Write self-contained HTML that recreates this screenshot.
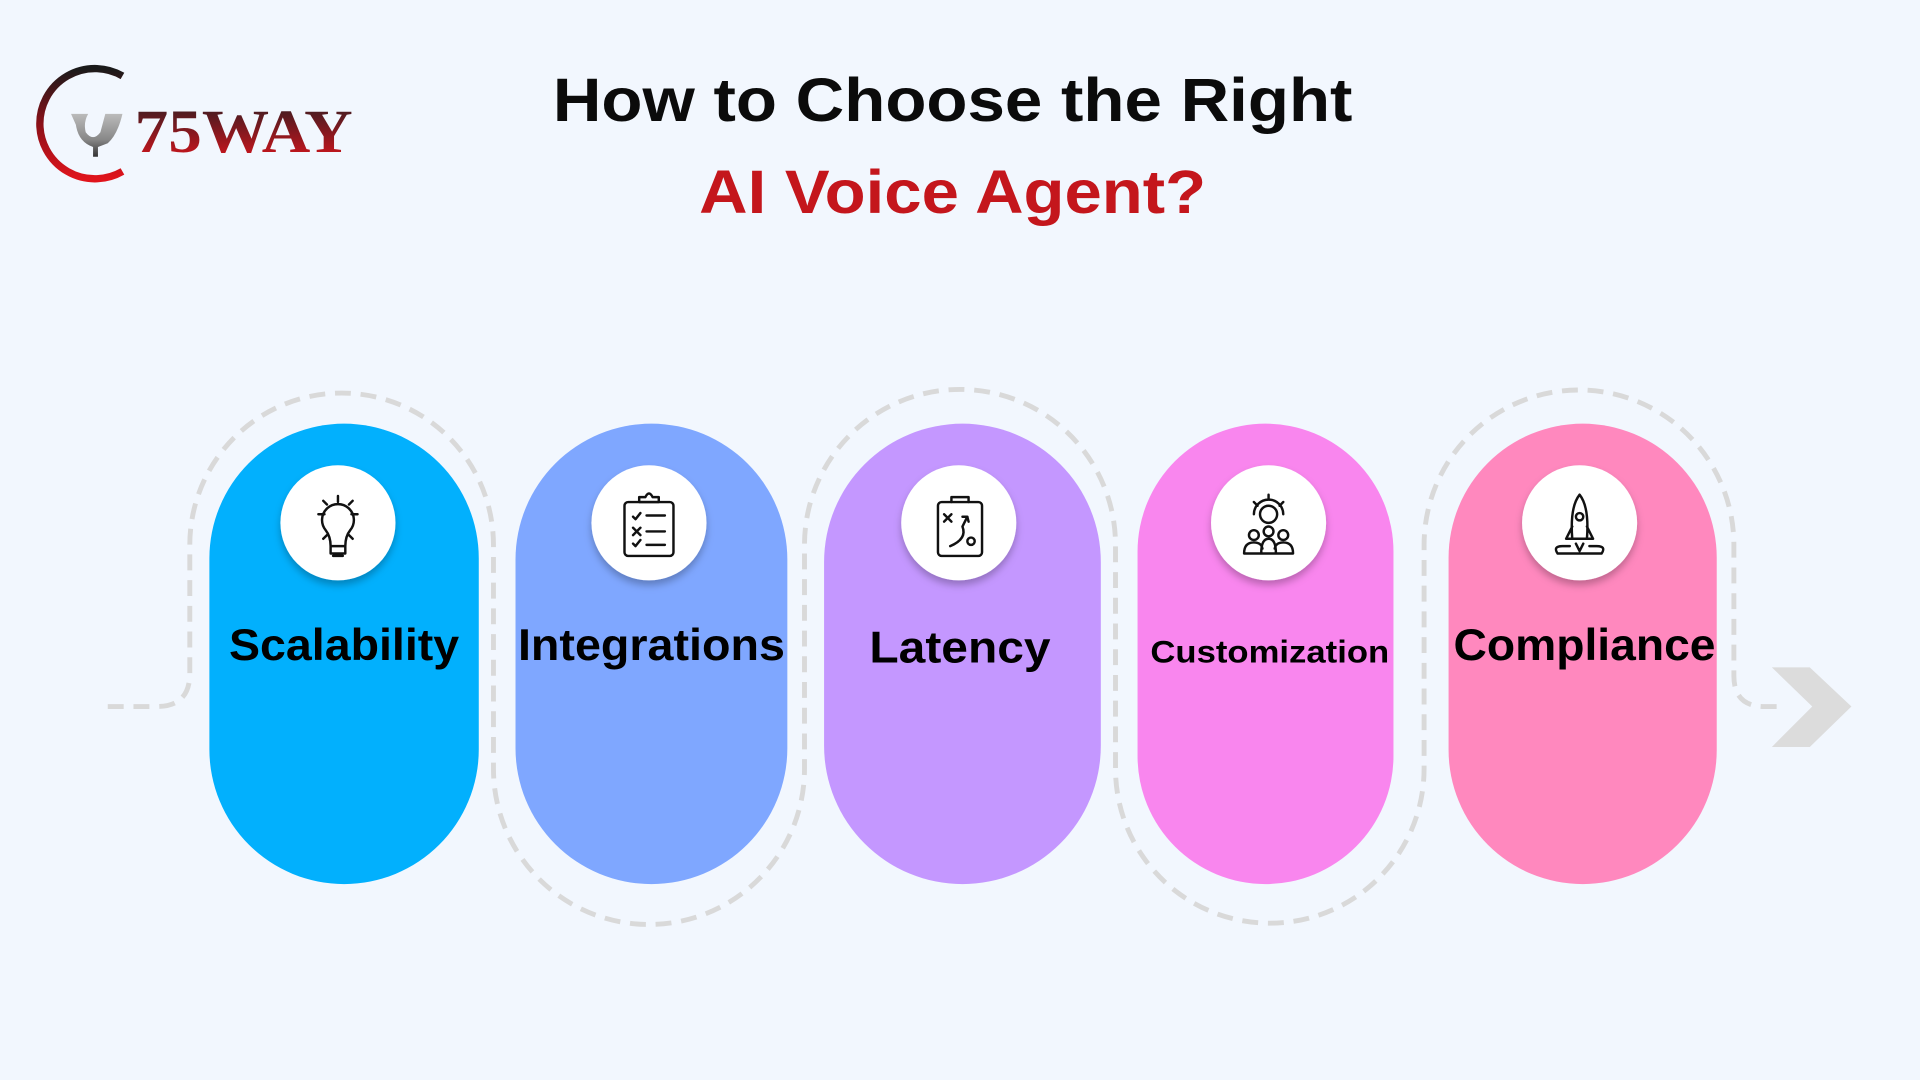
<!DOCTYPE html>
<html><head><meta charset="utf-8"><style>html,body{margin:0;padding:0;background:#f2f7fe;}svg{display:block}</style></head>
<body>
<svg width="1920" height="1080" viewBox="0 0 1568 882" xmlns="http://www.w3.org/2000/svg">
<defs>
<linearGradient id="lg" x1="0" y1="0" x2="0" y2="1"><stop offset="0" stop-color="#2a1d22"/><stop offset="1" stop-color="#e0141c"/></linearGradient>
<linearGradient id="ag" x1="0" y1="0" x2="0" y2="1"><stop offset="0" stop-color="#1a1a1a"/><stop offset="0.5" stop-color="#8a1018"/><stop offset="1" stop-color="#e0141c"/></linearGradient>
<linearGradient id="wg" x1="0" y1="0" x2="0" y2="1"><stop offset="0" stop-color="#bbb"/><stop offset="0.6" stop-color="#888"/><stop offset="1" stop-color="#333"/></linearGradient>
<filter id="sh" x="-30%" y="-30%" width="160%" height="170%"><feDropShadow dx="0" dy="4" stdDeviation="3" flood-color="#000" flood-opacity="0.25"/></filter>
</defs>
<rect width="1568" height="882" fill="#f2f7fe"/>
<!-- logo -->
<path d="M100 62 A45 45 0 1 0 100 140" fill="none" stroke="url(#ag)" stroke-width="6"/>
<path d="M58 93 L72 93 Q68 100 70 108 Q76 116 82 108 L86 93 L100 93 Q96 110 88 117 L80 120 L80 128 L76 128 L76 120 Q64 116 62 102 Z" fill="url(#wg)"/>
<text x="110" y="124" font-family="Liberation Serif, serif" font-weight="bold" font-size="50" fill="url(#lg)" textLength="178" lengthAdjust="spacingAndGlyphs">75WAY</text>
<!-- title -->
<text x="778" y="99" text-anchor="middle" font-family="Liberation Sans, sans-serif" font-weight="bold" font-size="50" fill="#0b0b0b" textLength="653" lengthAdjust="spacingAndGlyphs">How to Choose the Right</text>
<text x="778" y="174" text-anchor="middle" font-family="Liberation Sans, sans-serif" font-weight="bold" font-size="50" fill="#c4161c" textLength="414" lengthAdjust="spacingAndGlyphs">AI Voice Agent?</text>
<!-- dashed path -->
<path d="M88 577 L128 577 Q155 577 155 550 L155 445 A124 124 0 0 1 403 445 L403 628 A127 127 0 0 0 657 628 L657 445 A127 127 0 0 1 911 445 L911 628 A126 126 0 0 0 1163 628 L1163 445 A126.5 126.5 0 0 1 1416 445 L1416 552 Q1416 577 1441 577 L1452 577" fill="none" stroke="#d9d9d9" stroke-width="4" stroke-dasharray="13 8"/>
<polygon points="1447,545 1478,545 1512,577 1478,610 1447,610 1480,577" fill="#dcdcdc"/>
<!-- pills -->
<rect x="171" y="346" width="220" height="376" rx="110" fill="#02b0fd"/>
<rect x="421" y="346" width="222" height="376" rx="111" fill="#7fa7ff"/>
<rect x="673" y="346" width="226" height="376" rx="113" fill="#c497ff"/>
<rect x="929" y="346" width="209" height="376" rx="104.5" fill="#f986ee"/>
<rect x="1183" y="346" width="219" height="376" rx="109.5" fill="#ff88be"/>
<!-- icon circles -->
<g filter="url(#sh)" fill="#fff">
<circle cx="276" cy="427" r="47"/><circle cx="530" cy="427" r="47"/><circle cx="783" cy="427" r="47"/><circle cx="1036" cy="427" r="47"/><circle cx="1290" cy="427" r="47"/>
</g>
<g fill="none" stroke="#111" stroke-width="2" stroke-linecap="round" stroke-linejoin="round">
<!-- bulb -->
<path d="M270 446 Q270 438 266 433 A13 13 0 1 1 286 433 Q282 438 282 446 Z M270 446 L270 452 L282 452 L282 446 M272 454 L280 454"/>
<path d="M276 405 L276 410 M260 420 L265 420 M287 420 L292 420 M264 409 L267 412 M288 409 L285 412 M264 440 L267 437 M288 440 L285 437"/>
<!-- clipboard -->
<rect x="510" y="410" width="40" height="44" rx="3"/><path d="M522 410 L522 406 L527 406 Q530 400 533 406 L538 406 L538 410 Z"/>
<path d="M517 422 L519 424 L523 419 M517 431 L523 437 M523 431 L517 437 M517 444 L519 446 L523 441 M528 421 L543 421 M528 434 L543 434 M528 445 L543 445"/>
<!-- strategy clipboard -->
<rect x="766" y="410" width="36" height="44" rx="3"/><path d="M777 410 L777 406 L791 406 L791 410"/>
<path d="M771 420 L777 426 M777 420 L771 426 M776 446 Q790 440 786 430 L790 422 M786 422 L790 422 L791 426"/><circle cx="793" cy="442" r="3"/>
<!-- team gear -->
<circle cx="1036" cy="420" r="7"/><path d="M1024 420 A12 12 0 0 1 1048 420 M1036 404 L1036 408 M1024 410 L1027 413 M1048 410 L1045 413"/>
<circle cx="1024" cy="437" r="4"/><circle cx="1036" cy="434" r="4"/><circle cx="1048" cy="437" r="4"/>
<path d="M1016 452 Q1016 443 1024 443 Q1030 443 1031 448 M1030 452 Q1030 440 1036 440 Q1042 440 1042 452 M1041 448 Q1042 443 1048 443 Q1056 443 1056 452 M1016 452 L1056 452"/>
<!-- rocket -->
<path d="M1290 404 Q1298 414 1296 440 L1284 440 Q1282 414 1290 404 Z M1284 430 L1279 440 L1284 440 M1296 430 L1301 440 L1296 440"/><circle cx="1290" cy="422" r="3"/>
<path d="M1287 444 L1290 450 L1293 444 M1272 452 Q1268 446 1276 446 L1282 446 M1308 452 Q1312 446 1304 446 L1298 446 M1272 452 L1308 452"/>
</g>
<!-- labels -->
<g font-family="Liberation Sans, sans-serif" font-weight="bold" fill="#000" text-anchor="middle">
<text x="281" y="539" font-size="36" textLength="188" lengthAdjust="spacingAndGlyphs">Scalability</text>
<text x="532" y="539" font-size="36" textLength="218" lengthAdjust="spacingAndGlyphs">Integrations</text>
<text x="784" y="541" font-size="36" textLength="148" lengthAdjust="spacingAndGlyphs">Latency</text>
<text x="1037" y="541" font-size="26" textLength="195" lengthAdjust="spacingAndGlyphs">Customization</text>
<text x="1294" y="539" font-size="36" textLength="214" lengthAdjust="spacingAndGlyphs">Compliance</text>
</g>
</svg>
</body></html>
